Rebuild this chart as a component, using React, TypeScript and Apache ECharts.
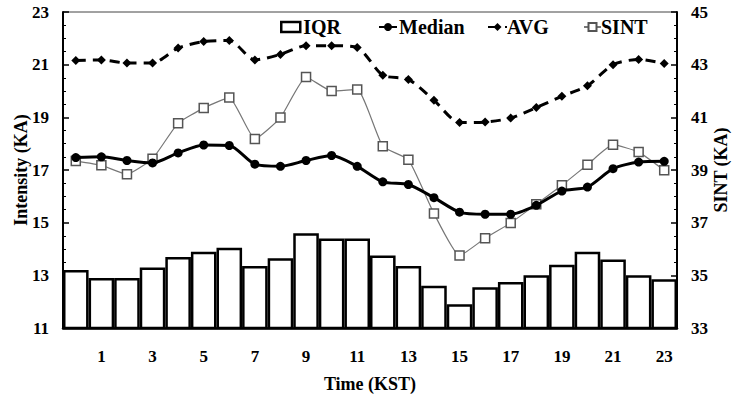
import React, { useEffect, useRef } from "react";
import * as echarts from "echarts";

const hours = Array.from({ length: 24 }, (_, i) => String(i));
const iqr = [13.2, 12.9, 12.9, 13.3, 13.7, 13.9, 14.05, 13.35, 13.65, 14.6, 14.4, 14.4, 13.75, 13.35, 12.6, 11.9, 12.55, 12.75, 13.0, 13.4, 13.9, 13.6, 13.0, 12.85];
const median = [17.47, 17.5, 17.36, 17.27, 17.65, 17.95, 17.93, 17.22, 17.14, 17.36, 17.55, 17.14, 16.55, 16.45, 15.95, 15.4, 15.32, 15.32, 15.66, 16.2, 16.35, 17.05, 17.3, 17.33];
const avg = [21.16, 21.18, 21.06, 21.06, 21.63, 21.88, 21.92, 21.18, 21.39, 21.72, 21.72, 21.65, 20.6, 20.44, 19.65, 18.8, 18.82, 18.97, 19.37, 19.8, 20.2, 21.0, 21.2, 21.04];
const sint = [39.34, 39.18, 38.84, 39.43, 40.78, 41.35, 41.75, 40.18, 40.99, 42.53, 42.0, 42.06, 39.9, 39.39, 37.35, 35.75, 36.41, 36.99, 37.7, 38.42, 39.2, 39.96, 39.68, 38.99];

const FONT = "'Liberation Serif', 'Times New Roman', serif";

export default function App() {
  const ref = useRef<HTMLDivElement>(null);
  useEffect(() => {
    if (!ref.current) return;
    const chart = echarts.init(ref.current, null, { renderer: "svg" });
    const txt = { fontFamily: FONT, fontWeight: "bold" as const, fontSize: 17, color: "#000" };
    const legendText = { fontFamily: FONT, fontWeight: "bold" as const, fontSize: 20, color: "#000" };
    const mkLegend = (name: string, left: number, w: number, pad: number) => ({
      data: [name],
      left,
      top: 12,
      itemWidth: w,
      itemHeight: 10,
      itemGap: 4,
      textStyle: { ...legendText, padding: [0, 0, 0, pad] },
      selectedMode: false,
    });
    const yCommon = {
      type: "value" as const,
      interval: 2,
      axisLine: { show: true, lineStyle: { color: "#000", width: 2 } },
      axisTick: { show: true, inside: true, length: 6, lineStyle: { color: "#000", width: 1.5 } },
      minorTick: { show: true, splitNumber: 4, length: 3, lineStyle: { color: "#000", width: 1 } },
      splitLine: { show: false },
      axisLabel: { ...txt, margin: 14 },
      nameLocation: "middle" as const,
      nameRotate: 90,
      nameMoveOverlap: false,
      nameTextStyle: { ...txt, fontSize: 18 },
    };
    chart.setOption({
      animation: false,
      backgroundColor: "#fff",
      grid: {
        left: 63, right: 55, top: 12, bottom: 66,
        containLabel: false,
        outerBoundsMode: "none",
        show: true, borderColor: "#444", borderWidth: 1, backgroundColor: "transparent",
      },
      legend: [
        { ...mkLegend("IQR", 275, 19, -2), itemStyle: { color: "#fff", borderColor: "#000", borderWidth: 2.5 }, icon: "rect" },
        mkLegend("Median", 373, 18, -3),
        mkLegend("AVG", 482, 19, -5),
        mkLegend("SINT", 578, 17, -5),
      ],
      xAxis: {
        type: "category",
        data: hours,
        name: "Time (KST)",
        nameLocation: "middle",
        nameGap: 47,
        nameMoveOverlap: false,
        nameTextStyle: { ...txt, fontSize: 18 },
        axisLine: { lineStyle: { color: "#000", width: 2.5 } },
        axisTick: { show: false },
        axisLabel: { ...txt, margin: 20, interval: (i: number) => i % 2 === 1 },
      },
      yAxis: [
        { ...yCommon, min: 11, max: 23, name: "Intensity (KA)", nameGap: 33, position: "left" },
        { ...yCommon, min: 33, max: 45, name: "SINT (KA)", nameGap: 35, position: "right" },
      ],
      series: [
        {
          name: "IQR",
          type: "bar",
          data: iqr,
          barCategoryGap: "0%",
          barGap: "0%",
          itemStyle: { color: "#fff", borderColor: "#000", borderWidth: 2.5 },
          z: 1,
        },
        {
          name: "Median",
          type: "line",
          data: median,
          smooth: 0.25,
          symbol: "circle",
          symbolSize: 9,
          itemStyle: { color: "#000" },
          lineStyle: { color: "#000", width: 3 },
          z: 4,
        },
        {
          name: "AVG",
          type: "line",
          data: avg,
          smooth: 0.25,
          symbol: "diamond",
          symbolSize: 9,
          itemStyle: { color: "#000" },
          lineStyle: { color: "#000", width: 3, type: [10, 7] },
          z: 4,
        },
        {
          name: "SINT",
          type: "line",
          yAxisIndex: 1,
          data: sint,
          smooth: 0.15,
          symbol: "rect",
          symbolSize: 9,
          showAllSymbol: true,
          itemStyle: { color: "#fff", borderColor: "#555", borderWidth: 1.5 },
          lineStyle: { color: "#777", width: 1.2 },
          z: 3,
        },
      ],
    });
    return () => chart.dispose();
  }, []);
  return <div ref={ref} style={{ position: "fixed", left: 0, top: 0, width: 732, height: 394 }} />;
}
